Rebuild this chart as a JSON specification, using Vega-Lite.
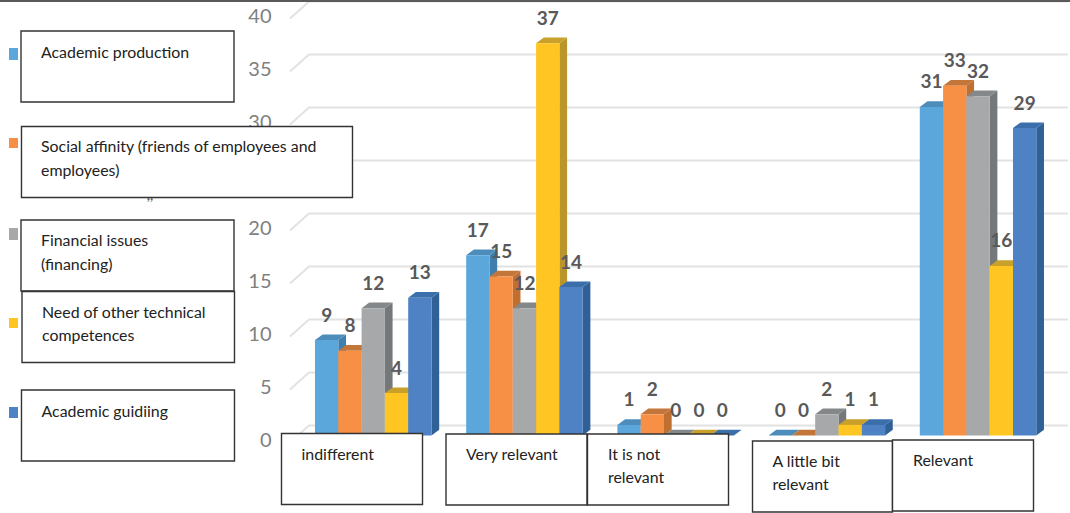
{
  "$schema": "https://vega.github.io/schema/vega-lite/v6.json",
  "width": 1070,
  "height": 513,
  "padding": 0,
  "autosize": "none",
  "background": "white",
  "view": {"stroke": null},
  "config": {"axisX": {"disable": true}, "legend": {"disable": true}},
  "datasets": {
    "bars": [
      {"category": "indifferent", "series": "Academic production", "value": 9},
      {"category": "indifferent", "series": "Social affinity", "value": 8},
      {"category": "indifferent", "series": "Financial issues", "value": 12},
      {"category": "indifferent", "series": "Need of other technical competences", "value": 4},
      {"category": "indifferent", "series": "Academic guidiing", "value": 13},
      {"category": "Very relevant", "series": "Academic production", "value": 17},
      {"category": "Very relevant", "series": "Social affinity", "value": 15},
      {"category": "Very relevant", "series": "Financial issues", "value": 12},
      {"category": "Very relevant", "series": "Need of other technical competences", "value": 37},
      {"category": "Very relevant", "series": "Academic guidiing", "value": 14},
      {"category": "It is not relevant", "series": "Academic production", "value": 1},
      {"category": "It is not relevant", "series": "Social affinity", "value": 2},
      {"category": "It is not relevant", "series": "Financial issues", "value": 0},
      {"category": "It is not relevant", "series": "Need of other technical competences", "value": 0},
      {"category": "It is not relevant", "series": "Academic guidiing", "value": 0},
      {"category": "A little bit relevant", "series": "Academic production", "value": 0},
      {"category": "A little bit relevant", "series": "Social affinity", "value": 0},
      {"category": "A little bit relevant", "series": "Financial issues", "value": 2},
      {"category": "A little bit relevant", "series": "Need of other technical competences", "value": 1},
      {"category": "A little bit relevant", "series": "Academic guidiing", "value": 1},
      {"category": "Relevant", "series": "Academic production", "value": 31},
      {"category": "Relevant", "series": "Social affinity", "value": 33},
      {"category": "Relevant", "series": "Financial issues", "value": 32},
      {"category": "Relevant", "series": "Need of other technical competences", "value": 16},
      {"category": "Relevant", "series": "Academic guidiing", "value": 29}
    ],
    "ticks": [{"tick": 0}, {"tick": 5}, {"tick": 10}, {"tick": 15}, {"tick": 20}, {"tick": 25}, {"tick": 30}, {"tick": 35}, {"tick": 40}]
  },
  "layer": [
    {
      "description": "Back wall gridlines with their short diagonal along the side wall",
      "data": {"name": "ticks"},
      "transform": [
        {"calculate": "[-1.073,-0.258,32.318]", "as": "wx"},
        {"flatten": ["wx"]},
        {"calculate": "datum.tick+0.943-(datum.wx<-1?1.6:0)", "as": "wy"}
      ],
      "mark": {"type": "line", "stroke": "#e2e2e2", "strokeWidth": 2},
      "encoding": {
        "x": {"field": "wx", "type": "quantitative", "scale": {"domain": [-13.519, 32.403], "zero": false, "nice": false}},
        "y": {
          "field": "wy", "type": "quantitative",
          "scale": {"domain": [-7.311, 41.085], "zero": false, "nice": false},
          "axis": {
            "title": null, "values": [0, 5, 10, 15, 20, 25, 30, 35, 40], "grid": false, "domain": false, "ticks": false,
            "offset": -271, "labelPadding": 0, "labelOffset": 4.5, "labelFont": "Lato", "labelFontSize": 20,
            "labelColor": "#808080", "zindex": 0
          }
        },
        "detail": {"field": "tick"}
      }
    },
    {
      "description": "Side faces of the bars",
      "data": {"name": "bars"},
      "transform": [
        {"calculate": "indexof(['indifferent','Very relevant','It is not relevant','A little bit relevant','Relevant'],datum.category)*6.489+indexof(['Academic production','Social affinity','Financial issues','Need of other technical competences','Academic guidiing'],datum.series)", "as": "pos"},
        {"calculate": "[0,1]", "as": "k"},
        {"flatten": ["k"]},
        {"calculate": "datum.pos+1+datum.k*0.33", "as": "fx"},
        {"calculate": "datum.value+datum.k*0.54", "as": "fy"},
        {"calculate": "datum.k*0.54", "as": "fy2"},
        {"calculate": "datum.category+'|'+datum.series", "as": "bar"}
      ],
      "mark": {"type": "area", "interpolate": "linear"},
      "encoding": {
        "x": {"field": "fx", "type": "quantitative"},
        "y": {"field": "fy", "type": "quantitative", "stack": null},
        "y2": {"field": "fy2"},
        "detail": {"field": "bar"},
        "color": {
          "field": "series", "type": "nominal",
          "scale": {
            "domain": ["Academic production", "Social affinity", "Financial issues", "Need of other technical competences", "Academic guidiing"],
            "range": ["#3F7FAD", "#BF6F30", "#74787A", "#B9952C", "#2F6197"]
          }
        }
      }
    },
    {
      "description": "Top faces of the bars",
      "data": {"name": "bars"},
      "transform": [
        {"calculate": "indexof(['indifferent','Very relevant','It is not relevant','A little bit relevant','Relevant'],datum.category)*6.489+indexof(['Academic production','Social affinity','Financial issues','Need of other technical competences','Academic guidiing'],datum.series)", "as": "pos"},
        {"calculate": "[0,0.33,1,1.33]", "as": "t"},
        {"flatten": ["t"]},
        {"calculate": "datum.pos+datum.t", "as": "fx"},
        {"calculate": "datum.value+(datum.t>0?0.54:0)", "as": "fy"},
        {"calculate": "datum.value+(datum.t>1.2?0.54:0)", "as": "fy2"},
        {"calculate": "datum.category+'|'+datum.series", "as": "bar"}
      ],
      "mark": {"type": "area", "interpolate": "linear"},
      "encoding": {
        "x": {"field": "fx", "type": "quantitative"},
        "y": {"field": "fy", "type": "quantitative", "stack": null},
        "y2": {"field": "fy2"},
        "detail": {"field": "bar"},
        "color": {
          "field": "series", "type": "nominal",
          "scale": {
            "domain": ["Academic production", "Social affinity", "Financial issues", "Need of other technical competences", "Academic guidiing"],
            "range": ["#4D8DBB", "#C4753A", "#85888A", "#C9A12A", "#3A6FAB"]
          }
        }
      }
    },
    {
      "description": "Front faces of the bars",
      "data": {"name": "bars"},
      "transform": [
        {"calculate": "indexof(['indifferent','Very relevant','It is not relevant','A little bit relevant','Relevant'],datum.category)*6.489+indexof(['Academic production','Social affinity','Financial issues','Need of other technical competences','Academic guidiing'],datum.series)", "as": "pos"},
        {"calculate": "datum.pos+1", "as": "pos2"}
      ],
      "mark": {"type": "rect"},
      "encoding": {
        "x": {"field": "pos", "type": "quantitative"},
        "x2": {"field": "pos2"},
        "y": {"field": "value", "type": "quantitative"},
        "y2": {"datum": 0},
        "color": {
          "field": "series", "type": "nominal",
          "scale": {
            "domain": ["Academic production", "Social affinity", "Financial issues", "Need of other technical competences", "Academic guidiing"],
            "range": ["#5BA6DB", "#F79045", "#A6A8A9", "#FFC522", "#4E82C4"]
          }
        }
      }
    },
    {
      "description": "Value labels above the bars",
      "data": {"name": "bars"},
      "transform": [
        {"calculate": "indexof(['indifferent','Very relevant','It is not relevant','A little bit relevant','Relevant'],datum.category)*6.489+indexof(['Academic production','Social affinity','Financial issues','Need of other technical competences','Academic guidiing'],datum.series)+0.5", "as": "mid"}
      ],
      "mark": {"type": "text", "font": "Lato", "fontSize": 19, "fontWeight": "bold", "fill": "#595959", "baseline": "middle", "align": "center", "dy": -24.5},
      "encoding": {
        "x": {"field": "mid", "type": "quantitative"},
        "y": {"field": "value", "type": "quantitative"},
        "text": {"field": "value", "type": "quantitative"}
      }
    },
    {
      "description": "Rule along the top edge",
      "data": {"values": [{"edge": "top"}]},
      "mark": {"type": "rule", "stroke": "#5a5a5a", "strokeWidth": 2},
      "encoding": {"y": {"datum": 40.99, "type": "quantitative"}}
    },
    {
      "description": "Stray marks just under the second legend box",
      "data": {"values": [{"t": ",,"}]},
      "mark": {"type": "text", "font": "Lato", "fontSize": 14, "fontWeight": "bold", "fill": "#666666", "align": "center", "baseline": "alphabetic"},
      "encoding": {"x": {"datum": -7.082, "type": "quantitative"}, "y": {"datum": 22.25, "type": "quantitative"}, "text": {"field": "t"}}
    },
    {
      "data": {"values": [{"s": "Academic production"}]},
      "mark": {"type": "rect", "fill": "#5BA6DB"},
      "encoding": {"x": {"datum": -13.133, "type": "quantitative"}, "x2": {"datum": -12.747}, "y": {"datum": 36.557, "type": "quantitative"}, "y2": {"datum": 35.425}}
    },
    {
      "data": {"values": [{"s": "Social affinity"}]},
      "mark": {"type": "rect", "fill": "#F79045"},
      "encoding": {"x": {"datum": -13.133, "type": "quantitative"}, "x2": {"datum": -12.747}, "y": {"datum": 28.066, "type": "quantitative"}, "y2": {"datum": 27.123}}
    },
    {
      "data": {"values": [{"s": "Financial issues"}]},
      "mark": {"type": "rect", "fill": "#A6A8A9"},
      "encoding": {"x": {"datum": -13.133, "type": "quantitative"}, "x2": {"datum": -12.747}, "y": {"datum": 19.575, "type": "quantitative"}, "y2": {"datum": 18.443}}
    },
    {
      "data": {"values": [{"s": "Need of other technical competences"}]},
      "mark": {"type": "rect", "fill": "#FFC522"},
      "encoding": {"x": {"datum": -13.133, "type": "quantitative"}, "x2": {"datum": -12.747}, "y": {"datum": 11.085, "type": "quantitative"}, "y2": {"datum": 10.142}}
    },
    {
      "data": {"values": [{"s": "Academic guidiing"}]},
      "mark": {"type": "rect", "fill": "#4E82C4"},
      "encoding": {"x": {"datum": -13.133, "type": "quantitative"}, "x2": {"datum": -12.747}, "y": {"datum": 2.689, "type": "quantitative"}, "y2": {"datum": 1.651}}
    },
    {
      "data": {"values": [{"s": "box"}]},
      "mark": {"type": "rect", "fill": "white", "stroke": "#333333", "strokeWidth": 1.4},
      "encoding": {"x": {"datum": -12.618, "type": "quantitative"}, "x2": {"datum": -3.476}, "y": {"datum": 38.16, "type": "quantitative"}, "y2": {"datum": 31.462}}
    },
    {
      "data": {"values": [{"s": "box"}]},
      "mark": {"type": "rect", "fill": "white", "stroke": "#333333", "strokeWidth": 1.4},
      "encoding": {"x": {"datum": -12.597, "type": "quantitative"}, "x2": {"datum": 1.609}, "y": {"datum": 29.151, "type": "quantitative"}, "y2": {"datum": 22.453}}
    },
    {
      "data": {"values": [{"s": "box"}]},
      "mark": {"type": "rect", "fill": "white", "stroke": "#333333", "strokeWidth": 1.4},
      "encoding": {"x": {"datum": -12.618, "type": "quantitative"}, "x2": {"datum": -3.476}, "y": {"datum": 20.33, "type": "quantitative"}, "y2": {"datum": 13.632}}
    },
    {
      "data": {"values": [{"s": "box"}]},
      "mark": {"type": "rect", "fill": "white", "stroke": "#333333", "strokeWidth": 1.4},
      "encoding": {"x": {"datum": -12.575, "type": "quantitative"}, "x2": {"datum": -3.455}, "y": {"datum": 13.585, "type": "quantitative"}, "y2": {"datum": 6.887}}
    },
    {
      "data": {"values": [{"s": "box"}]},
      "mark": {"type": "rect", "fill": "white", "stroke": "#333333", "strokeWidth": 1.4},
      "encoding": {"x": {"datum": -12.597, "type": "quantitative"}, "x2": {"datum": -3.455}, "y": {"datum": 4.292, "type": "quantitative"}, "y2": {"datum": -2.406}}
    },
    {
      "data": {"values": [{"s": "box"}]},
      "mark": {"type": "rect", "fill": "white", "stroke": "#333333", "strokeWidth": 1.4},
      "encoding": {"x": {"datum": -1.438, "type": "quantitative"}, "x2": {"datum": 4.614}, "y": {"datum": 0.189, "type": "quantitative"}, "y2": {"datum": -6.509}}
    },
    {
      "data": {"values": [{"s": "box"}]},
      "mark": {"type": "rect", "fill": "white", "stroke": "#333333", "strokeWidth": 1.4},
      "encoding": {"x": {"datum": 5.622, "type": "quantitative"}, "x2": {"datum": 11.674}, "y": {"datum": 0.142, "type": "quantitative"}, "y2": {"datum": -6.557}}
    },
    {
      "data": {"values": [{"s": "box"}]},
      "mark": {"type": "rect", "fill": "white", "stroke": "#333333", "strokeWidth": 1.4},
      "encoding": {"x": {"datum": 11.695, "type": "quantitative"}, "x2": {"datum": 17.747}, "y": {"datum": 0.142, "type": "quantitative"}, "y2": {"datum": -6.557}}
    },
    {
      "data": {"values": [{"s": "box"}]},
      "mark": {"type": "rect", "fill": "white", "stroke": "#333333", "strokeWidth": 1.4},
      "encoding": {"x": {"datum": 18.777, "type": "quantitative"}, "x2": {"datum": 24.785}, "y": {"datum": -0.519, "type": "quantitative"}, "y2": {"datum": -7.217}}
    },
    {
      "data": {"values": [{"s": "box"}]},
      "mark": {"type": "rect", "fill": "white", "stroke": "#333333", "strokeWidth": 1.4},
      "encoding": {"x": {"datum": 24.785, "type": "quantitative"}, "x2": {"datum": 30.837}, "y": {"datum": -0.425, "type": "quantitative"}, "y2": {"datum": -7.123}}
    },
    {
      "data": {"values": [{"t": ["Academic production"]}]},
      "mark": {"type": "text", "font": "Lato", "fontSize": 15.9, "fill": "#222222", "align": "left", "baseline": "alphabetic", "lineHeight": 23.5},
      "encoding": {"x": {"datum": -11.76, "type": "quantitative"}, "y": {"datum": 35.613, "type": "quantitative"}, "text": {"field": "t"}}
    },
    {
      "data": {"values": [{"t": ["Social affinity (friends of employees and", "employees)"]}]},
      "mark": {"type": "text", "font": "Lato", "fontSize": 15.9, "fill": "#222222", "align": "left", "baseline": "alphabetic", "lineHeight": 23.5},
      "encoding": {"x": {"datum": -11.76, "type": "quantitative"}, "y": {"datum": 26.745, "type": "quantitative"}, "text": {"field": "t"}}
    },
    {
      "data": {"values": [{"t": ["Financial issues", "(financing)"]}]},
      "mark": {"type": "text", "font": "Lato", "fontSize": 15.9, "fill": "#222222", "align": "left", "baseline": "alphabetic", "lineHeight": 23.5},
      "encoding": {"x": {"datum": -11.76, "type": "quantitative"}, "y": {"datum": 17.877, "type": "quantitative"}, "text": {"field": "t"}}
    },
    {
      "data": {"values": [{"t": ["Need of other technical", "competences"]}]},
      "mark": {"type": "text", "font": "Lato", "fontSize": 15.9, "fill": "#222222", "align": "left", "baseline": "alphabetic", "lineHeight": 23},
      "encoding": {"x": {"datum": -11.717, "type": "quantitative"}, "y": {"datum": 11.085, "type": "quantitative"}, "text": {"field": "t"}}
    },
    {
      "data": {"values": [{"t": ["Academic guidiing"]}]},
      "mark": {"type": "text", "font": "Lato", "fontSize": 15.9, "fill": "#222222", "align": "left", "baseline": "alphabetic"},
      "encoding": {"x": {"datum": -11.738, "type": "quantitative"}, "y": {"datum": 1.792, "type": "quantitative"}, "text": {"field": "t"}}
    },
    {
      "data": {"values": [{"t": ["indifferent"]}]},
      "mark": {"type": "text", "font": "Lato", "fontSize": 15.9, "fill": "#222222", "align": "left", "baseline": "alphabetic"},
      "encoding": {"x": {"datum": -0.579, "type": "quantitative"}, "y": {"datum": -2.311, "type": "quantitative"}, "text": {"field": "t"}}
    },
    {
      "data": {"values": [{"t": ["Very relevant"]}]},
      "mark": {"type": "text", "font": "Lato", "fontSize": 15.9, "fill": "#222222", "align": "left", "baseline": "alphabetic"},
      "encoding": {"x": {"datum": 6.481, "type": "quantitative"}, "y": {"datum": -2.311, "type": "quantitative"}, "text": {"field": "t"}}
    },
    {
      "data": {"values": [{"t": ["It is not", "relevant"]}]},
      "mark": {"type": "text", "font": "Lato", "fontSize": 15.9, "fill": "#222222", "align": "left", "baseline": "alphabetic", "lineHeight": 23},
      "encoding": {"x": {"datum": 12.575, "type": "quantitative"}, "y": {"datum": -2.311, "type": "quantitative"}, "text": {"field": "t"}}
    },
    {
      "data": {"values": [{"t": ["A little bit", "relevant"]}]},
      "mark": {"type": "text", "font": "Lato", "fontSize": 15.9, "fill": "#222222", "align": "left", "baseline": "alphabetic", "lineHeight": 22.5},
      "encoding": {"x": {"datum": 19.635, "type": "quantitative"}, "y": {"datum": -2.972, "type": "quantitative"}, "text": {"field": "t"}}
    },
    {
      "data": {"values": [{"t": ["Relevant"]}]},
      "mark": {"type": "text", "font": "Lato", "fontSize": 15.9, "fill": "#222222", "align": "left", "baseline": "alphabetic"},
      "encoding": {"x": {"datum": 25.665, "type": "quantitative"}, "y": {"datum": -2.877, "type": "quantitative"}, "text": {"field": "t"}}
    }
  ],
  "resolve": {"scale": {"color": "independent"}}
}
